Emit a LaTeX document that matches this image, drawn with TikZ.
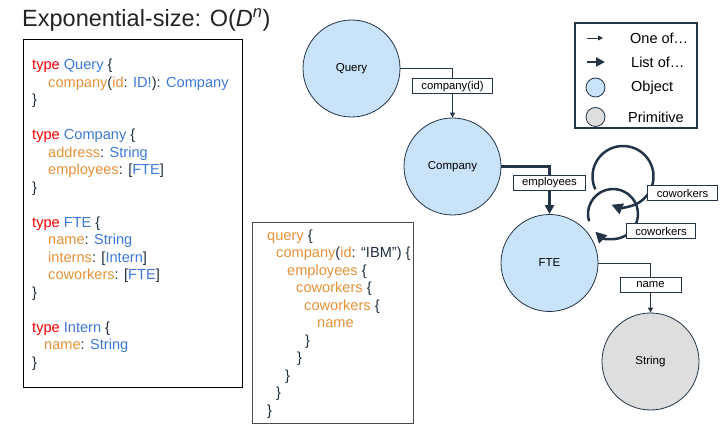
\documentclass[tikz,border=0pt]{standalone}
\usepackage{fontspec}
\setmainfont{Liberation Sans}
\usetikzlibrary{arrows.meta}
\definecolor{kwred}{RGB}{255,0,0}
\definecolor{tyblue}{RGB}{60,120,216}
\definecolor{fdorange}{RGB}{230,145,56}
\definecolor{punct}{RGB}{30,45,62}
\definecolor{edge}{RGB}{35,52,70}
\definecolor{objblue}{RGB}{201,227,250}
\definecolor{primgray}{RGB}{222,222,222}
\definecolor{titlecol}{RGB}{35,35,35}
\newcommand{\kwd}{\textcolor{kwred}}
\newcommand{\typ}{\textcolor{tyblue}}
\newcommand{\fld}{\textcolor{fdorange}}

\begin{document}
\begin{tikzpicture}[x=1pt,y=-1pt,
    obj/.style={circle,draw=edge,line width=0.8pt,fill=objblue,minimum size=97pt,inner sep=0pt,font=\fontsize{11.5}{14}\selectfont},
    prim/.style={obj,fill=primgray},
    oneof/.style={draw=edge,line width=0.9pt,-{Triangle[length=5pt,width=5pt]}},
    listof/.style={draw=edge,line width=2.5pt,-{Triangle[length=9pt,width=9pt]}},
    loopy/.style={draw=edge,line width=2.5pt,-{Triangle[length=11pt,width=11pt]}},
    lbl/.style={draw=edge,line width=0.8pt,fill=white,inner xsep=9pt,inner ysep=0pt,minimum height=15pt,font=\fontsize{11.3}{13}\selectfont},
    legtxt/.style={anchor=west,inner sep=0pt,font=\fontsize{14.5}{17}\selectfont},
    code/.style={anchor=north west,inner sep=0pt,align=left,text=punct,font=\fontsize{14.6}{17.5}\selectfont}]
    \useasboundingbox (0,0) rectangle (720,427);

    \node[anchor=base west,inner sep=0pt,text=titlecol,font=\fontsize{23.5}{28}\selectfont] (title) at (22,26.7)
      {Exponential-size: O(\textit{D}\textsuperscript{\textit{n}})};

    \node[draw=black,line width=1pt,minimum width=219pt,minimum height=347pt,inner sep=0pt] (schemabox) at (132.5,213.5) {};
    \node[code] (schema) at (32,59) {
      \kwd{type} \typ{Query} \{\\
      \hspace*{16pt}\fld{company}(\fld{id}: \typ{ID!}): \typ{Company}\\
      \}\\[17.5pt]
      \kwd{type} \typ{Company} \{\\
      \hspace*{16pt}\fld{address}: \typ{String}\\
      \hspace*{16pt}\fld{employees}: [\typ{FTE}]\\
      \}\\[17.5pt]
      \kwd{type} \typ{FTE} \{\\
      \hspace*{16pt}\fld{name}: \typ{String}\\
      \hspace*{16pt}\fld{interns}: [\typ{Intern}]\\
      \hspace*{16pt}\fld{coworkers}: [\typ{FTE}]\\
      \}\\[17.5pt]
      \kwd{type} \typ{Intern} \{\\
      \hspace*{12pt}\fld{name}: \typ{String}\\
      \}
    };

    \node[draw=black!70,line width=0.9pt,minimum width=161pt,minimum height=201pt,inner sep=0pt] (querybox) at (332.5,322.5) {};
    \node[code] (query) at (267,229.5) {
      \fld{query} \{\\
      \hspace*{9pt}\fld{company}(\fld{id}: “IBM”) \{\\
      \hspace*{20pt}\fld{employees} \{\\
      \hspace*{29pt}\fld{coworkers} \{\\
      \hspace*{37pt}\fld{coworkers} \{\\
      \hspace*{50pt}\fld{name}\\
      \hspace*{38pt}\}\\
      \hspace*{30pt}\}\\
      \hspace*{18pt}\}\\
      \hspace*{9pt}\}\\
      \}
    };

    \node[obj] (Query) at (351.5,68.5) {Query};
    \node[obj] (Company) at (452.5,166.5) {Company};
    \node[obj] (FTE) at (549.5,263) {FTE};
    \node[prim] (String) at (650.5,361.5) {String};

    \draw[oneof] (Query.east) -| node[lbl,pos=.68] (cid) {company(id)} (Company.north);
    \draw[listof] (Company.east) -| node[lbl,pos=.67] (emp) {employees} (FTE.north);
    \draw[oneof] (FTE.east) -| node[lbl,pos=.72,minimum width=61pt] (nm) {name} (String.north);

    \coordinate (cw1) at (623,176.5);
    \coordinate (cw2) at (613,214);
    \draw[loopy] (cw1) ++(155:30.5) arc[start angle=155,end angle=472,radius=30.5];
    \draw[loopy] (cw2) ++(163:25) arc[start angle=163,end angle=495,radius=25];
    \node[lbl] (cwa) at (682.5,193) {coworkers};
    \node[lbl] (cwb) at (661,231) {coworkers};

    \node[draw=edge,line width=1.8pt,minimum width=122pt,minimum height=105pt,inner sep=0pt] (legend) at (636,75.5) {};
    \node[legtxt] (l1) at (630,38) {One of…};
    \node[legtxt] (l2) at (631,62) {List of…};
    \node[legtxt] (l3) at (631,87.5) {Object};
    \node[legtxt] (l4) at (628,117) {Primitive};
    \draw[oneof] ([xshift=-43pt]l1.west) -- ([xshift=-27pt]l1.west);
    \draw[listof] ([xshift=-44pt]l2.west) -- ([xshift=-26pt]l2.west);
    \node[obj,minimum size=19pt] (lo) at (595.5,87.5) {};
    \node[prim,minimum size=19pt] (lp) at (595.5,117) {};
  \end{tikzpicture}
\end{document}
